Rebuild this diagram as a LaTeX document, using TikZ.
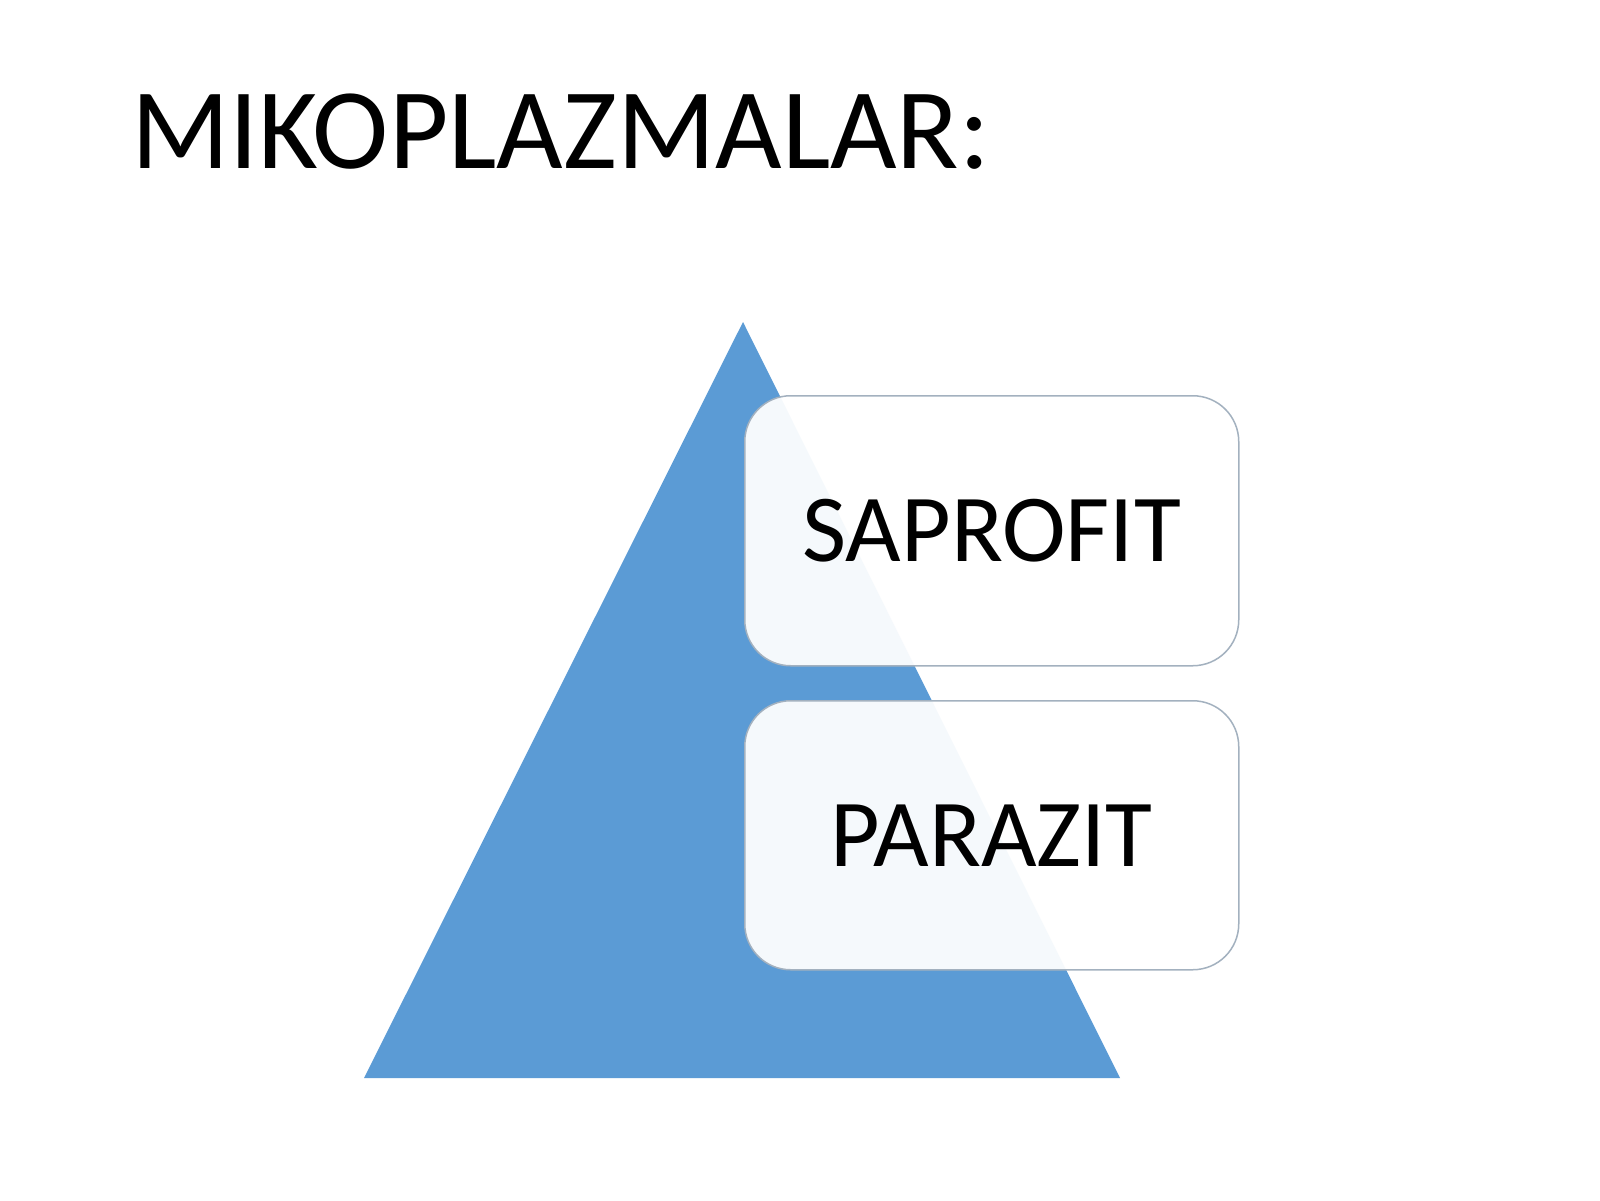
\documentclass[tikz,border=0pt]{standalone}
\usepackage{fontspec}
\setmainfont{Carlito}
\definecolor{triblue}{HTML}{5B9BD5}
\definecolor{boxline}{HTML}{A3B1BF}
\begin{document}
\begin{tikzpicture}[x=1pt,y=-1pt,
  itembox/.style={draw=boxline,line width=1.5pt,fill=white,fill opacity=0.94,text opacity=1,
    rounded corners=46pt,minimum width=494pt,minimum height=270pt,inner sep=0pt,
    font=\fontsize{96}{110}\selectfont,anchor=north west},
  titletext/.style={font=\fontsize{115}{130}\selectfont,anchor=base west,inner sep=0pt}]
\useasboundingbox (0,0) rectangle (1600,1200);
\fill[white] (0,0) rectangle (1600,1200);
\node[titletext] (title) at (131,168) {MIKOPLAZMALAR:};
\coordinate (apex) at (743,322);
\coordinate (bl) at (364,1078);
\coordinate (br) at (1120,1078);
\fill[triblue] (apex) -- (br) -- (bl) -- cycle;
\node[itembox] (sap) at (744,395) {SAPROFIT};
\node[itembox,minimum height=269pt] (par) at (744,700) {PARAZIT};
\end{tikzpicture}
\end{document}
